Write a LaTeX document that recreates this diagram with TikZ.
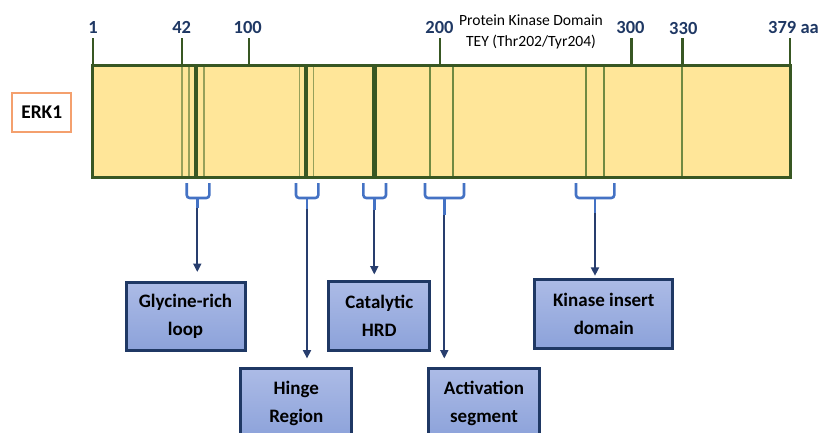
\documentclass[tikz,border=0pt]{standalone}
\usepackage{fontspec}
\setmainfont{Carlito}
\usetikzlibrary{arrows.meta}
\definecolor{barfill}{RGB}{255,230,153}
\definecolor{barline}{RGB}{56,87,35}
\definecolor{thinA}{RGB}{150,160,90}
\definecolor{thinB}{RGB}{112,138,66}
\definecolor{navy}{RGB}{31,56,100}
\definecolor{bracecol}{RGB}{68,114,196}
\definecolor{arrowcol}{RGB}{40,62,110}
\definecolor{boxtop}{RGB}{172,187,230}
\definecolor{boxbot}{RGB}{140,162,218}
\definecolor{boxedge}{RGB}{31,56,100}
\definecolor{erkedge}{RGB}{244,160,110}
\begin{document}
\begin{tikzpicture}[x=1pt,y=-1pt,
  featbox/.style={draw=boxedge, line width=3pt, top color=boxtop,
    bottom color=boxbot, align=center, inner sep=0pt,
    font=\fontsize{19}{28}\selectfont\bfseries},
  numlab/.style={anchor=base, text=navy, inner sep=0pt,
    font=\fontsize{18.5}{20}\selectfont\bfseries},
  domlab/.style={anchor=base, inner sep=0pt,
    font=\fontsize{15.6}{18}\selectfont},
  tickline/.style={draw=barline, line width=2.3pt},
  thinlight/.style={draw=thinA, line width=1.6pt},
  thinmid/.style={draw=thinB, line width=1.8pt},
  thickmark/.style={draw=barline},
  bracket/.style={draw=bracecol, line width=2.6pt, rounded corners=3pt},
  stem/.style={draw=bracecol, line width=2.6pt},
  pointer/.style={draw=arrowcol, line width=2pt,
    -{Triangle[length=8.5pt,width=8pt]}}]

\clip (0,0) rectangle (821,432);

% residue ticks and labels
\foreach \x in {93,181.7,248.7,440,631.5,682.5,790}
  \draw[tickline] (\x,38) -- (\x,67);
\node[numlab] (r1)   at (93,33)    {1};
\node[numlab] (r42)  at (181.7,33) {42};
\node[numlab] (r100) at (247.7,33) {100};
\node[numlab] (r200) at (439.5,33.5) {200};
\node[numlab] (r300) at (630.5,33) {300};
\node[numlab] (r330) at (683.3,34) {330};
\node[numlab, anchor=base west] (r379) at (768,33.5) {379 aa};
\node[domlab] (pkd) at (531,25.5) {Protein Kinase Domain};
\node[domlab] (tey) at (531,46.5) {TEY (Thr202/Tyr204)};

% protein bar
\node[fill=barfill, minimum width=697pt, minimum height=111pt, inner sep=0pt]
  (bar) at (441.5,121.5) {};
\foreach \x in {181.7,189,203.7,299.3,313.3}
  \draw[thinlight] (\x,66) -- (\x,177);
\foreach \x in {430,452.7,586,603.7,681.7}
  \draw[thinmid] (\x,66) -- (\x,177);
\draw[thickmark, line width=4.2pt] (196,66) -- (196,177);
\draw[thickmark, line width=4.2pt] (305.7,66) -- (305.7,177);
\draw[thickmark, line width=5.2pt] (374.4,66) -- (374.4,177);
\draw[draw=barline, line width=3pt] (bar.north west) rectangle (bar.south east);

% protein name
\node[draw=erkedge, line width=1.8pt, minimum width=58.7pt, minimum height=38.4pt,
  inner sep=0pt, font=\fontsize{19.4}{22}\selectfont\bfseries]
  (erk) at (41.7,112.5) {ERK1};

% feature boxes
\node[featbox, minimum width=119pt, minimum height=68pt] (gly) at (185.5,316) {Glycine-rich\\loop};
\node[featbox, minimum width=111pt, minimum height=70pt] (hinge) at (296.3,403.5) {Hinge\\Region};
\node[featbox, minimum width=101.3pt, minimum height=69pt] (cat) at (379.3,315.5) {Catalytic\\HRD};
\node[featbox, minimum width=111pt, minimum height=70pt] (act) at (484,403.5) {Activation\\segment};
\node[featbox, minimum width=137.7pt, minimum height=69pt] (kin) at (603.8,313.8) {Kinase insert\\domain};

% brackets under the bar
\draw[bracket] (186.7,183) -- (186.7,198) -- (209.3,198) -- (209.3,183);
\draw[stem] (197.3,197) -- (197.3,208) coordinate (b1);
\draw[bracket] (296,183) -- (296,198) -- (318.3,198) -- (318.3,183);
\draw[stem] (307,197) -- (307,210) coordinate (b2);
\draw[bracket] (363.3,183) -- (363.3,198) -- (386,198) -- (386,183);
\draw[stem] (374.3,197) -- (374.3,210) coordinate (b3);
\draw[bracket] (425,183) -- (425,198) -- (464,198) -- (464,183);
\draw[stem] (444.3,197) -- (444.3,215) coordinate (b4);
\draw[bracket] (576,183) -- (576,198) -- (614.3,198) -- (614.3,183);
\draw[stem] (595,197) -- (595,213) coordinate (b5);

% pointers to the feature boxes
\draw[pointer, shorten >=8.5pt] (b1) -- (b1 |- gly.north);
\draw[pointer, shorten >=8.5pt] ([yshift=1.5pt]b2) -- (b2 |- hinge.north);
\draw[pointer, shorten >=5pt] (b3) -- (b3 |- cat.north);
\draw[pointer, shorten >=8.5pt] (b4) -- (b4 |- act.north);
\draw[pointer, shorten >=2pt] (b5) -- (b5 |- kin.north);
\end{tikzpicture}
\end{document}
